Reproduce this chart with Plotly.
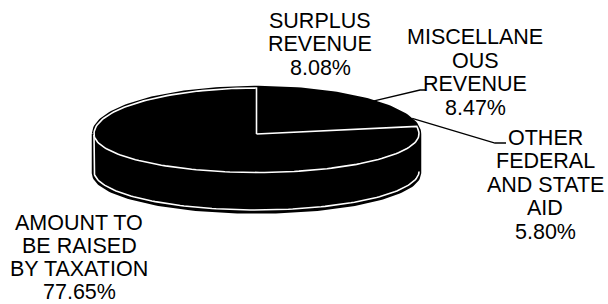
import numpy as np
import plotly.graph_objects as go

# ---- data ----
categories = ["SURPLUS REVENUE", "MISCELLANEOUS REVENUE",
              "OTHER FEDERAL AND STATE AID", "AMOUNT TO BE RAISED BY TAXATION"]
values = [8.08, 8.47, 5.80, 77.65]
label_lines = [["SURPLUS", "REVENUE"],
               ["MISCELLANE", "OUS", "REVENUE"],
               ["OTHER", "FEDERAL", "AND STATE", "AID"],
               ["AMOUNT TO", "BE RAISED", "BY TAXATION"]]

# ---- geometry (pixel-like canvas) ----
W, H = 608, 304
cx, cy = 256.5, 134.0
rx, ry_back, ry_front = 162.5, 46.0, 38.5
depth = 39.0

def rim(f, dz=0.0):
    f = np.asarray(f, dtype=float)
    a = 2 * np.pi * f
    c = np.cos(a)
    ry = np.where(c > 0, ry_back, ry_front)
    return cx + rx * np.sin(a), cy - ry * c + dz

total = sum(values)
fr = [v / total for v in values]
starts = np.concatenate([[0], np.cumsum(fr)[:-1]])
ends = np.cumsum(fr)

fig = go.Figure()

def add_poly(xs, ys, fill="black", line="black", lw=1.0):
    fig.add_trace(go.Scatter(x=list(xs), y=list(ys), mode="lines",
                             fill="toself", fillcolor=fill,
                             line=dict(color=line, width=lw),
                             hoverinfo="skip", showlegend=False))

# silhouette (outer dark border)
sx1, sy1 = rim(np.linspace(0.75, 1.25, 120))
sx2, sy2 = rim(np.linspace(0.25, 0.75, 120), depth)
add_poly(np.concatenate([sx1, sx2, [sx1[0]]]), np.concatenate([sy1, sy2, [sy1[0]]]),
         fill="black", line="black", lw=4.5)

# side faces of each slice (front visible part)
for s, e in zip(starts, ends):
    a, b = max(s, 0.25), min(e, 0.75)
    if b > a:
        t = np.linspace(a, b, 100)
        x1, y1 = rim(t)
        x2, y2 = rim(t[::-1], depth)
        add_poly(np.concatenate([x1, x2, [x1[0]]]), np.concatenate([y1, y2, [y1[0]]]),
                 fill="black", line="black", lw=1)

# white inner edge along left side and bottom
lx, ly = rim(np.linspace(0.75, 0.25, 120), depth)
lx0, ly0 = rim([0.75])
fig.add_trace(go.Scatter(x=np.concatenate([lx0, lx]), y=np.concatenate([ly0 + 1, ly - 1.5]),
                         mode="lines", line=dict(color="white", width=1.6),
                         hoverinfo="skip", showlegend=False))

# top faces: small slices first, big slice last with white outline
order = sorted(range(len(values)), key=lambda i: values[i])
for i in order:
    t = np.linspace(starts[i], ends[i], 160)
    x, y = rim(t)
    xs = np.concatenate([[cx], x, [cx]])
    ys = np.concatenate([[cy], y, [cy]])
    big = values[i] == max(values)
    add_poly(xs, ys, fill="black", line="white" if big else "black", lw=1.6 if big else 1)

# ---- labels ----
label_pos = [(320, 20.5), (475, 37.0), (545, 137.5), (79, 222.5)]
line_gaps = [23.6, 23.6, 23.6, 23.0]
fs = 21.5
for i, lines in enumerate(label_lines):
    lx_, ly_ = label_pos[i]
    all_lines = lines + [f"{values[i]:.2f}%"]
    for k, txt in enumerate(all_lines):
        fig.add_annotation(x=lx_, y=ly_ + k * line_gaps[i], text=txt, showarrow=False,
                           xanchor="center", yanchor="middle",
                           font=dict(family="Liberation Sans, Arial, sans-serif",
                                     size=fs, color="black"))

# leader lines for misc and other
leader_end = {1: [(420, 90), (426, 90)], 2: [(495, 143), (506, 143)]}
for i, pts in leader_end.items():
    mid = (starts[i] + ends[i]) / 2
    mx, my = rim([mid])
    xs = [float(mx[0]) + 3] + [p[0] for p in pts]
    ys = [float(my[0])] + [p[1] for p in pts]
    fig.add_trace(go.Scatter(x=xs, y=ys, mode="lines", line=dict(color="black", width=1.3),
                             hoverinfo="skip", showlegend=False))

fig.update_layout(
    width=W, height=H, margin=dict(l=0, r=0, t=0, b=0),
    paper_bgcolor="white", plot_bgcolor="white",
    xaxis=dict(range=[0, W], visible=False, fixedrange=True),
    yaxis=dict(range=[H, 0], visible=False, fixedrange=True),
    showlegend=False,
)
fig.write_html("out.html", config={"displayModeBar": False},
               post_script="document.body.style.margin='0';document.body.style.overflow='hidden';")
